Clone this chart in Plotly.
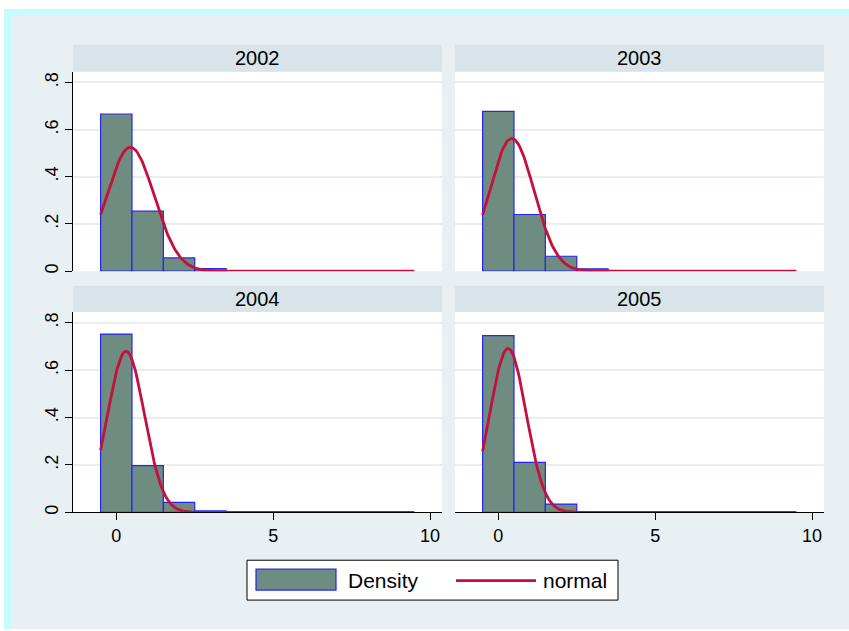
import numpy as np
import plotly.graph_objects as go

# ---------------- data ----------------
years = ["2002", "2003", "2004", "2005"]
bin_centers = [0, 1, 2, 3]
dens_2002 = [0.666, 0.254, 0.056, 0.011]
dens_2003 = [0.677, 0.240, 0.063, 0.010]
dens_2004 = [0.752, 0.197, 0.042, 0.006]
dens_2005 = [0.745, 0.211, 0.035, 0.003]
densities = [dens_2002, dens_2003, dens_2004, dens_2005]
norm_mean = [0.45, 0.43, 0.31, 0.31]
norm_sd = [0.76, 0.71, 0.587, 0.577]
data_min, data_max = -0.5, 9.5
y_ticks = [0, 0.2, 0.4, 0.6, 0.8]
y_ticktext = ["0", ".2", ".4", ".6", ".8"]
x_ticks = [0, 5, 10]
x_ticktext = ["0", "5", "10"]

# ---------------- layout geometry (pixels) ----------------
W, H = 849, 631
def px(x):
    return x / W
def py(y):
    return 1 - y / H

cols = [(73, 442), (455, 824)]
rows = [(72, 272), (313, 514)]      # plot area top/bottom
headers = [(45, 72), (287, 313)]

BAR_FILL = "#6e8c7f"
BAR_LINE = "#2626f0"
CURVE = "#c4103c"
BG = "#e8f0f3"
HEADER = "#d8e4ea"
GRID = "#e6eef2"
FONT = "Liberation Sans, Arial, sans-serif"

fig = go.Figure()
shapes = []
annotations = []

# outer frame
shapes.append(dict(type="rect", xref="paper", yref="paper", x0=px(4), x1=px(W), y0=py(H), y1=py(9),
                   fillcolor="#c6fcfc", line=dict(width=0), layer="below"))
shapes.append(dict(type="rect", xref="paper", yref="paper", x0=px(11), x1=px(W), y0=py(H), y1=py(15),
                   fillcolor=BG, line=dict(width=0), layer="below"))

layout_axes = {}
for i, year in enumerate(years):
    r, c = divmod(i, 2)
    x0, x1 = cols[c]
    ytop, ybot = rows[r]
    htop, hbot = headers[r]
    # white plot area
    shapes.append(dict(type="rect", xref="paper", yref="paper", x0=px(x0), x1=px(x1), y0=py(ybot), y1=py(ytop),
                       fillcolor="white", line=dict(width=0), layer="below"))
    # header strip
    shapes.append(dict(type="rect", xref="paper", yref="paper", x0=px(x0), x1=px(x1), y0=py(hbot), y1=py(htop),
                       fillcolor=HEADER, line=dict(width=0), layer="below"))
    annotations.append(dict(text=year, xref="paper", yref="paper", x=px((x0 + x1) / 2), y=py((htop + hbot) / 2),
                            showarrow=False, xanchor="center", yanchor="middle",
                            font=dict(family=FONT, size=20, color="black")))

    n = i + 1
    xa = "x" if n == 1 else f"x{n}"
    ya = "y" if n == 1 else f"y{n}"
    xkey = "xaxis" if n == 1 else f"xaxis{n}"
    ykey = "yaxis" if n == 1 else f"yaxis{n}"

    fig.add_trace(go.Bar(x=bin_centers, y=densities[i], width=1, xaxis=xa, yaxis=ya,
                         marker=dict(color=BAR_FILL, line=dict(color=BAR_LINE, width=1.2)),
                         name="Density", showlegend=False))
    xs = np.linspace(data_min, data_max, 300)
    ys = np.exp(-0.5 * ((xs - norm_mean[i]) / norm_sd[i]) ** 2) / (norm_sd[i] * np.sqrt(2 * np.pi))
    fig.add_trace(go.Scatter(x=xs, y=ys, mode="lines", xaxis=xa, yaxis=ya,
                             line=dict(color=CURVE, width=2.8), name="normal", showlegend=False))

    bottom = (r == 1)
    left = (c == 0)
    layout_axes[xkey] = dict(domain=[px(x0), px(x1)], range=[-1.38, 10.38], anchor=ya,
                             showgrid=False, zeroline=False,
                             showline=bottom, linecolor="black", linewidth=1,
                             ticks="outside" if bottom else "", ticklen=7, tickcolor="black", tickwidth=1,
                             tickvals=x_ticks, ticktext=x_ticktext, showticklabels=bottom,
                             tickfont=dict(family=FONT, size=18, color="black"))
    layout_axes[ykey] = dict(domain=[py(ybot), py(ytop)], range=[0, 0.845], anchor=xa,
                             showgrid=True, gridcolor=GRID, gridwidth=1.5, zeroline=False,
                             showline=left, linecolor="black", linewidth=1,
                             ticks="outside" if left else "", ticklen=7, tickcolor="black", tickwidth=1,
                             tickvals=y_ticks, ticktext=y_ticktext, showticklabels=left, tickangle=-90,
                             tickfont=dict(family=FONT, size=18, color="black"))

# manual legend
lx0, lx1, ly0, ly1 = 247, 618, 562, 602
shapes.append(dict(type="rect", xref="paper", yref="paper", x0=px(lx0), x1=px(lx1), y0=py(ly1), y1=py(ly0),
                   fillcolor="white", line=dict(color="black", width=1)))
shapes.append(dict(type="rect", xref="paper", yref="paper", x0=px(256), x1=px(336), y0=py(592), y1=py(571),
                   fillcolor=BAR_FILL, line=dict(color=BAR_LINE, width=1.2)))
shapes.append(dict(type="line", xref="paper", yref="paper", x0=px(456), x1=px(536), y0=py(582.5), y1=py(582.5),
                   line=dict(color=CURVE, width=2.8)))
annotations.append(dict(text="Density", xref="paper", yref="paper", x=px(346), y=py(582), showarrow=False,
                        xanchor="left", yanchor="middle", font=dict(family=FONT, size=21, color="black")))
annotations.append(dict(text="normal", xref="paper", yref="paper", x=px(541), y=py(582), showarrow=False,
                        xanchor="left", yanchor="middle", font=dict(family=FONT, size=21, color="black")))

fig.update_layout(width=W, height=H, autosize=False, margin=dict(l=0, r=0, t=0, b=0),
                  paper_bgcolor="white", plot_bgcolor="rgba(0,0,0,0)", showlegend=False,
                  barmode="overlay", shapes=shapes, annotations=annotations, **layout_axes)

fig.write_html("out.html", config={"displayModeBar": False},
               post_script="document.body.style.margin='0';document.body.style.overflow='hidden';")
